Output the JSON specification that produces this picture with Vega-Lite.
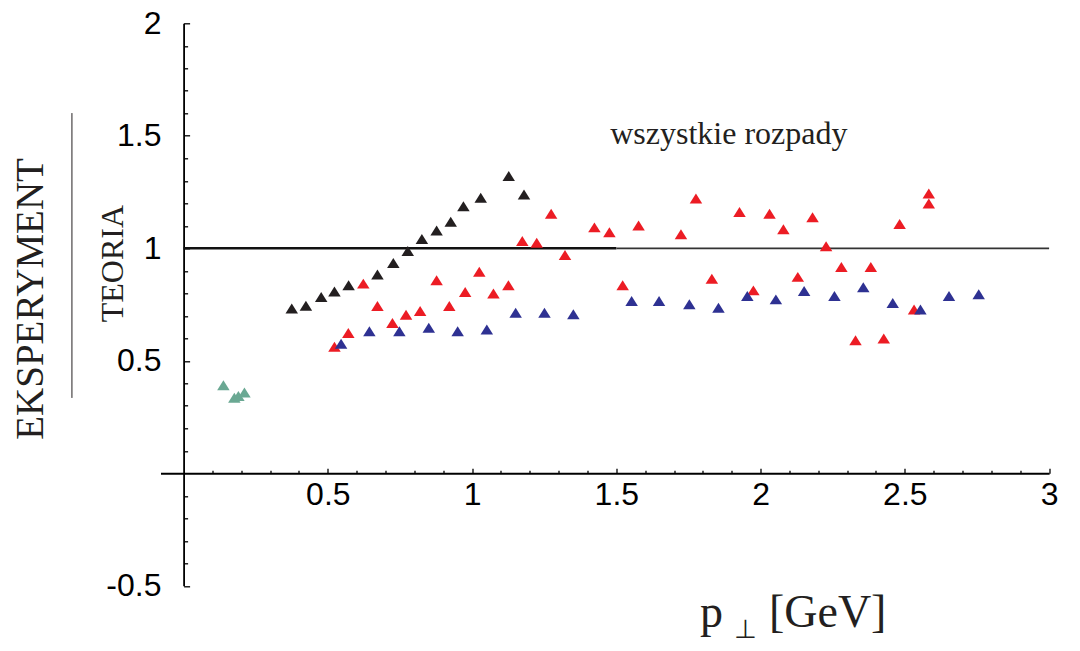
{
  "$schema": "https://vega.github.io/schema/vega-lite/v6.json",
  "width": 888.6,
  "height": 562.5,
  "autosize": {"type": "none"},
  "padding": {"left": 160.5, "top": 23.3, "right": 31, "bottom": 65.2},
  "background": "white",
  "config": {"view": {"stroke": null}},
  "resolve": {"axis": {"x": "independent", "y": "independent"}},
  "layer": [
    {
      "data": {"values": [{"x": 0, "x2": 1.5, "y": 1}]},
      "mark": {"type": "rule", "color": "#111111", "strokeWidth": 2.4},
      "encoding": {
        "x": {
          "field": "x", "type": "quantitative",
          "scale": {"domain": [-0.08, 3.0], "nice": false, "zero": false},
          "axis": {
            "orient": "bottom", "offset": -112.5, "title": null, "grid": false, "labels": false, "domain": false,
            "values": [0.1, 0.2, 0.3, 0.4, 0.6, 0.7, 0.8, 0.9, 1.1, 1.2, 1.3, 1.4, 1.6, 1.7, 1.8, 1.9, 2.1, 2.2, 2.3, 2.4, 2.6, 2.7, 2.8, 2.9],
            "tickColor": "#000000", "tickWidth": 1.3, "tickSize": -3
          }
        },
        "x2": {"field": "x2"},
        "y": {
          "field": "y", "type": "quantitative",
          "scale": {"domain": [-0.5, 2.0], "nice": false, "zero": false},
          "axis": {
            "orient": "left", "offset": -23.1, "title": null, "grid": false, "labels": false, "domain": false,
            "values": [-0.4, -0.3, -0.2, -0.1, 0.1, 0.2, 0.3, 0.4, 0.6, 0.7, 0.8, 0.9, 1.1, 1.2, 1.3, 1.4, 1.6, 1.7, 1.8, 1.9],
            "tickColor": "#000000", "tickWidth": 1.3, "tickSize": -4
          }
        }
      }
    },
    {
      "data": {"values": [{"x": 1.5, "x2": 3.0, "y": 1}]},
      "mark": {"type": "rule", "color": "#333333", "strokeWidth": 1.8},
      "encoding": {
        "x": {"field": "x", "type": "quantitative", "scale": {"domain": [-0.08, 3.0], "nice": false, "zero": false}, "axis": null},
        "x2": {"field": "x2"},
        "y": {"field": "y", "type": "quantitative", "scale": {"domain": [-0.5, 2.0], "nice": false, "zero": false}, "axis": null}
      }
    },
    {
      "data": {"values": [
        {"seria": "s1", "p": 0.138, "r": 0.391},
        {"seria": "s1", "p": 0.176, "r": 0.336},
        {"seria": "s1", "p": 0.190, "r": 0.344},
        {"seria": "s1", "p": 0.211, "r": 0.359},
        {"seria": "s2", "p": 0.375, "r": 0.732},
        {"seria": "s2", "p": 0.424, "r": 0.745},
        {"seria": "s2", "p": 0.477, "r": 0.784},
        {"seria": "s2", "p": 0.523, "r": 0.808},
        {"seria": "s2", "p": 0.572, "r": 0.836},
        {"seria": "s2", "p": 0.672, "r": 0.884},
        {"seria": "s2", "p": 0.727, "r": 0.935},
        {"seria": "s2", "p": 0.777, "r": 0.988},
        {"seria": "s2", "p": 0.826, "r": 1.041},
        {"seria": "s2", "p": 0.877, "r": 1.079},
        {"seria": "s2", "p": 0.926, "r": 1.118},
        {"seria": "s2", "p": 0.970, "r": 1.187},
        {"seria": "s2", "p": 1.030, "r": 1.225},
        {"seria": "s2", "p": 1.127, "r": 1.321},
        {"seria": "s2", "p": 1.180, "r": 1.239},
        {"seria": "s3", "p": 0.523, "r": 0.562},
        {"seria": "s3", "p": 0.571, "r": 0.624},
        {"seria": "s3", "p": 0.623, "r": 0.843},
        {"seria": "s3", "p": 0.672, "r": 0.744},
        {"seria": "s3", "p": 0.724, "r": 0.668},
        {"seria": "s3", "p": 0.771, "r": 0.705},
        {"seria": "s3", "p": 0.820, "r": 0.721},
        {"seria": "s3", "p": 0.877, "r": 0.858},
        {"seria": "s3", "p": 0.921, "r": 0.744},
        {"seria": "s3", "p": 0.976, "r": 0.806},
        {"seria": "s3", "p": 1.025, "r": 0.896},
        {"seria": "s3", "p": 1.074, "r": 0.799},
        {"seria": "s3", "p": 1.126, "r": 0.836},
        {"seria": "s3", "p": 1.174, "r": 1.032},
        {"seria": "s3", "p": 1.224, "r": 1.025},
        {"seria": "s3", "p": 1.274, "r": 1.154},
        {"seria": "s3", "p": 1.322, "r": 0.970},
        {"seria": "s3", "p": 1.424, "r": 1.093},
        {"seria": "s3", "p": 1.476, "r": 1.071},
        {"seria": "s3", "p": 1.522, "r": 0.836},
        {"seria": "s3", "p": 1.577, "r": 1.101},
        {"seria": "s3", "p": 1.724, "r": 1.062},
        {"seria": "s3", "p": 1.776, "r": 1.221},
        {"seria": "s3", "p": 1.831, "r": 0.865},
        {"seria": "s3", "p": 1.927, "r": 1.161},
        {"seria": "s3", "p": 1.975, "r": 0.813},
        {"seria": "s3", "p": 2.031, "r": 1.154},
        {"seria": "s3", "p": 2.079, "r": 1.085},
        {"seria": "s3", "p": 2.129, "r": 0.873},
        {"seria": "s3", "p": 2.180, "r": 1.138},
        {"seria": "s3", "p": 2.227, "r": 1.009},
        {"seria": "s3", "p": 2.280, "r": 0.917},
        {"seria": "s3", "p": 2.329, "r": 0.591},
        {"seria": "s3", "p": 2.382, "r": 0.917},
        {"seria": "s3", "p": 2.427, "r": 0.599},
        {"seria": "s3", "p": 2.482, "r": 1.108},
        {"seria": "s3", "p": 2.532, "r": 0.728},
        {"seria": "s3", "p": 2.583, "r": 1.244},
        {"seria": "s3", "p": 2.583, "r": 1.199},
        {"seria": "s4", "p": 0.546, "r": 0.576},
        {"seria": "s4", "p": 0.644, "r": 0.631},
        {"seria": "s4", "p": 0.748, "r": 0.631},
        {"seria": "s4", "p": 0.850, "r": 0.647},
        {"seria": "s4", "p": 0.950, "r": 0.631},
        {"seria": "s4", "p": 1.051, "r": 0.639},
        {"seria": "s4", "p": 1.151, "r": 0.714},
        {"seria": "s4", "p": 1.251, "r": 0.714},
        {"seria": "s4", "p": 1.351, "r": 0.707},
        {"seria": "s4", "p": 1.553, "r": 0.766},
        {"seria": "s4", "p": 1.648, "r": 0.766},
        {"seria": "s4", "p": 1.753, "r": 0.751},
        {"seria": "s4", "p": 1.854, "r": 0.736},
        {"seria": "s4", "p": 1.954, "r": 0.788},
        {"seria": "s4", "p": 2.053, "r": 0.773},
        {"seria": "s4", "p": 2.151, "r": 0.810},
        {"seria": "s4", "p": 2.256, "r": 0.788},
        {"seria": "s4", "p": 2.356, "r": 0.827},
        {"seria": "s4", "p": 2.458, "r": 0.757},
        {"seria": "s4", "p": 2.554, "r": 0.728},
        {"seria": "s4", "p": 2.653, "r": 0.788},
        {"seria": "s4", "p": 2.756, "r": 0.796}
      ]},
      "mark": {"type": "point", "shape": "M0,-0.8L1,0.8L-1,0.8Z", "filled": true, "size": 156, "opacity": 1, "strokeWidth": 0},
      "encoding": {
        "x": {
          "field": "p", "type": "quantitative",
          "scale": {"domain": [-0.08, 3.0], "nice": false, "zero": false},
          "axis": {
            "orient": "bottom", "offset": -112.5, "title": null, "grid": false,
            "values": [0.5, 1, 1.5, 2, 2.5, 3],
            "labelExpr": "'' + datum.value",
            "labelOverlap": false, "labelFlush": false, "labelBound": false,
            "labelFont": "Liberation Sans", "labelFontSize": 32, "labelColor": "#000000",
            "labelPadding": 11,
            "domainColor": "#000000", "domainWidth": 2,
            "tickColor": "#000000", "tickWidth": 1.3, "tickSize": -5
          }
        },
        "y": {
          "field": "r", "type": "quantitative",
          "scale": {"domain": [-0.5, 2.0], "nice": false, "zero": false},
          "axis": {
            "orient": "left", "offset": -23.1, "title": null, "grid": false,
            "values": [-0.5, 0.5, 1, 1.5, 2],
            "labelExpr": "'' + datum.value",
            "labelOverlap": false, "labelFlush": false, "labelBound": false,
            "labelFont": "Liberation Sans", "labelFontSize": 32, "labelColor": "#000000",
            "labelPadding": 28.6,
            "domainColor": "#000000", "domainWidth": 1.8,
            "tickColor": "#000000", "tickWidth": 1.3, "tickSize": -6
          }
        },
        "color": {
          "field": "seria", "type": "nominal",
          "scale": {"domain": ["s1", "s2", "s3", "s4"], "range": ["#6aa893", "#231f20", "#ec1c24", "#2e3192"]},
          "legend": null
        }
      }
    },
    {
      "data": {"values": [{"x": -0.387, "y": 1.601, "y2": 0.335}]},
      "mark": {"type": "rule", "color": "#231f20", "strokeWidth": 1},
      "encoding": {
        "x": {"field": "x", "type": "quantitative", "scale": {"domain": [-0.08, 3.0], "nice": false, "zero": false}, "axis": null},
        "y": {"field": "y", "type": "quantitative", "scale": {"domain": [-0.5, 2.0], "nice": false, "zero": false}, "axis": null},
        "y2": {"field": "y2"}
      }
    },
    {
      "data": {"values": [{"x": 1.890, "y": 1.462, "tekst": "wszystkie rozpady"}]},
      "mark": {"type": "text", "font": "Liberation Serif", "fontSize": 32, "align": "center", "baseline": "alphabetic", "color": "#231f20"},
      "encoding": {
        "x": {"field": "x", "type": "quantitative", "scale": {"domain": [-0.08, 3.0], "nice": false, "zero": false}, "axis": null},
        "y": {"field": "y", "type": "quantitative", "scale": {"domain": [-0.5, 2.0], "nice": false, "zero": false}, "axis": null},
        "text": {"field": "tekst"}
      }
    },
    {
      "data": {"values": [{"x": -0.487, "y": 0.775, "tekst": "EKSPERYMENT"}]},
      "mark": {"type": "text", "font": "Liberation Serif", "fontSize": 39, "angle": 270, "align": "center", "baseline": "alphabetic", "color": "#231f20"},
      "encoding": {
        "x": {"field": "x", "type": "quantitative", "scale": {"domain": [-0.08, 3.0], "nice": false, "zero": false}, "axis": null},
        "y": {"field": "y", "type": "quantitative", "scale": {"domain": [-0.5, 2.0], "nice": false, "zero": false}, "axis": null},
        "text": {"field": "tekst"}
      }
    },
    {
      "data": {"values": [{"x": -0.210, "y": 0.932, "tekst": "TEORIA"}]},
      "mark": {"type": "text", "font": "Liberation Serif", "fontSize": 32, "angle": 270, "align": "center", "baseline": "alphabetic", "color": "#231f20"},
      "encoding": {
        "x": {"field": "x", "type": "quantitative", "scale": {"domain": [-0.08, 3.0], "nice": false, "zero": false}, "axis": null},
        "y": {"field": "y", "type": "quantitative", "scale": {"domain": [-0.5, 2.0], "nice": false, "zero": false}, "axis": null},
        "text": {"field": "tekst"}
      }
    },
    {
      "data": {"values": [{"x": 1.790, "y": -0.682, "tekst": "p"}, {"x": 2.029, "y": -0.682, "tekst": "[GeV]"}]},
      "mark": {"type": "text", "font": "Liberation Serif", "fontSize": 46, "align": "left", "baseline": "alphabetic", "color": "#231f20"},
      "encoding": {
        "x": {"field": "x", "type": "quantitative", "scale": {"domain": [-0.08, 3.0], "nice": false, "zero": false}, "axis": null},
        "y": {"field": "y", "type": "quantitative", "scale": {"domain": [-0.5, 2.0], "nice": false, "zero": false}, "axis": null},
        "text": {"field": "tekst"}
      }
    },
    {
      "data": {"values": [{"x": 1.948, "y": -0.732, "tekst": "⊥"}]},
      "mark": {"type": "text", "font": "DejaVu Sans", "fontSize": 26, "align": "center", "baseline": "alphabetic", "color": "#231f20"},
      "encoding": {
        "x": {"field": "x", "type": "quantitative", "scale": {"domain": [-0.08, 3.0], "nice": false, "zero": false}, "axis": null},
        "y": {"field": "y", "type": "quantitative", "scale": {"domain": [-0.5, 2.0], "nice": false, "zero": false}, "axis": null},
        "text": {"field": "tekst"}
      }
    }
  ]
}
